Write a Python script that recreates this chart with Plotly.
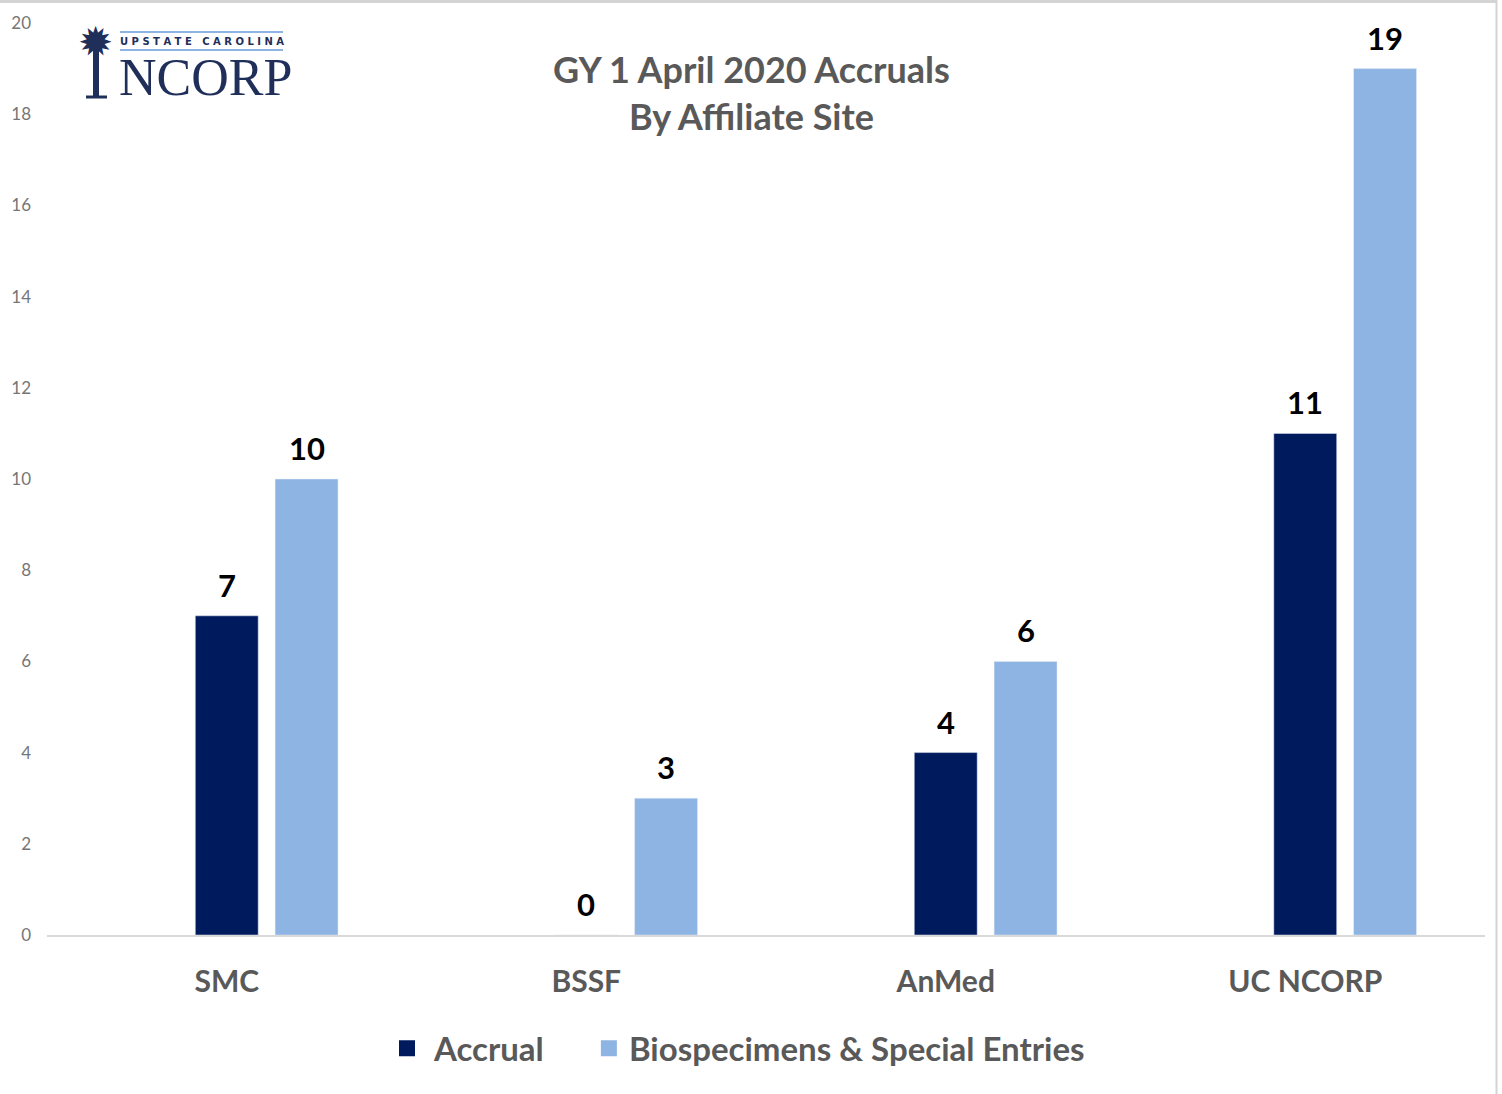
import plotly.graph_objects as go

categories = ["SMC", "BSSF", "AnMed", "UC NCORP"]
accrual = [7, 0, 4, 11]
biospecimens = [10, 3, 6, 19]
y_ticks = [0, 2, 4, 6, 8, 10, 12, 14, 16, 18, 20]
series_names = ["Accrual", "Biospecimens & Special Entries"]

NAVY = "#001A5E"
LIGHT = "#8EB4E3"
GRAY = "#595959"
LOGO = "#1F2F5A"
FONT = "Lato, 'Open Sans', sans-serif"

W, H = 1502, 1094
L, R, T, B = 47, 17, 23, 159
PLOT_W = W - L - R
PLOT_H = H - T - B
CAT_PX = PLOT_W / len(categories)

BAR_W = 0.175
NAVY_CENTER = 0.0
LIGHT_CENTER = 0.222

fig = go.Figure()
fig.add_trace(go.Bar(
    x=categories, y=accrual, name=series_names[0], marker_color=NAVY,
    width=BAR_W, offset=NAVY_CENTER - BAR_W / 2, showlegend=False,
))
fig.add_trace(go.Bar(
    x=categories, y=biospecimens, name=series_names[1], marker_color=LIGHT,
    width=BAR_W, offset=LIGHT_CENTER - BAR_W / 2, showlegend=False,
))
# legend entries with larger square symbols (non-breaking spaces for spacing)
NB = "\u00a0"
legend_labels = [NB + series_names[0] + NB * 5, series_names[1]]
for name, col in zip(legend_labels, (NAVY, LIGHT)):
    fig.add_trace(go.Scatter(x=[None], y=[None], mode="markers", name=name,
                             marker=dict(symbol="square", size=18, color=col)))

# value labels
for vals, center in ((accrual, NAVY_CENTER), (biospecimens, LIGHT_CENTER)):
    for c, v in zip(categories, vals):
        fig.add_annotation(x=c, y=v, xref="x", yref="y", text=str(v), showarrow=False,
                           xshift=center * CAT_PX, yshift=10, yanchor="bottom", xanchor="center",
                           font=dict(size=31, color="black", family=FONT, weight="bold"))

fig.update_layout(
    width=W, height=H,
    margin=dict(l=L, r=R, t=T, b=B, autoexpand=False),
    paper_bgcolor="white", plot_bgcolor="white",
    barmode="overlay",
    font=dict(family=FONT, color=GRAY),
    showlegend=True,
    legend=dict(orientation="h", x=(387 - L) / PLOT_W, xanchor="left", y=-0.0934, yanchor="top",
                font=dict(size=33, color=GRAY, family=FONT, weight="bold"),
                itemwidth=30, tracegroupgap=0),
    xaxis=dict(showgrid=False, showline=True, linecolor="#D9D9D9", linewidth=2,
               ticks="", tickfont=dict(size=30, color=GRAY, family=FONT, weight="bold"),
               ticklabelstandoff=19, range=[-0.5, 3.5], automargin=False),
    yaxis=dict(range=[0, 20], tickvals=y_ticks, showgrid=False, zeroline=False,
               showline=False, tickfont=dict(size=17, color="#767676", family=FONT),
               ticklabelstandoff=15, automargin=False),
)

def px_x(px):
    return (px - L) / PLOT_W

def px_y(py):
    return (T + PLOT_H - py) / PLOT_H

# Title
fig.add_annotation(text="GY 1 April 2020 Accruals<br>By Affiliate Site", xref="paper", yref="paper",
                   x=px_x(751.5), y=px_y(93), xanchor="center", yanchor="middle",
                   showarrow=False, font=dict(size=36, color=GRAY, family=FONT, weight="bold"))

# Logo (text-based)
fig.add_annotation(text="U P S T A T E   C A R O L I N A", xref="paper", yref="paper", x=px_x(202), y=px_y(41),
                   xanchor="center", yanchor="middle", showarrow=False,
                   font=dict(size=10, color=LOGO, family="DejaVu Sans", weight="bold"))
fig.add_annotation(text="NCORP", xref="paper", yref="paper", x=px_x(205), y=px_y(77),
                   xanchor="center", yanchor="middle", showarrow=False, borderpad=0,
                   font=dict(size=52, color=LOGO, family="Liberation Serif"))
fig.add_annotation(text="✹", xref="paper", yref="paper", x=px_x(95), y=px_y(43),
                   xanchor="center", yanchor="middle", showarrow=False, borderpad=0,
                   font=dict(size=42, color=LOGO, family="DejaVu Sans"))
for y0 in (32, 50):
    fig.add_shape(type="line", xref="paper", yref="paper", x0=px_x(120), x1=px_x(283),
                  y0=px_y(y0), y1=px_y(y0), line=dict(color=LIGHT, width=2))
fig.add_shape(type="line", xref="paper", yref="paper", x0=px_x(96), x1=px_x(96),
              y0=px_y(50), y1=px_y(97), line=dict(color=LOGO, width=6))
fig.add_shape(type="line", xref="paper", yref="paper", x0=px_x(86), x1=px_x(107),
              y0=px_y(97), y1=px_y(97), line=dict(color=LOGO, width=3))

# Frame edges (top and right)
fig.add_shape(type="line", xref="paper", yref="paper", x0=px_x(0), x1=px_x(1497),
              y0=px_y(1.5), y1=px_y(1.5), line=dict(color="#D4D4D4", width=3))
fig.add_shape(type="line", xref="paper", yref="paper", x0=px_x(1496.5), x1=px_x(1496.5),
              y0=px_y(0), y1=px_y(1094), line=dict(color="#D4D4D4", width=2))

fig.write_html("out.html", config={"displayModeBar": False},
               post_script="document.body.style.margin='0';document.body.style.overflow='hidden';")
